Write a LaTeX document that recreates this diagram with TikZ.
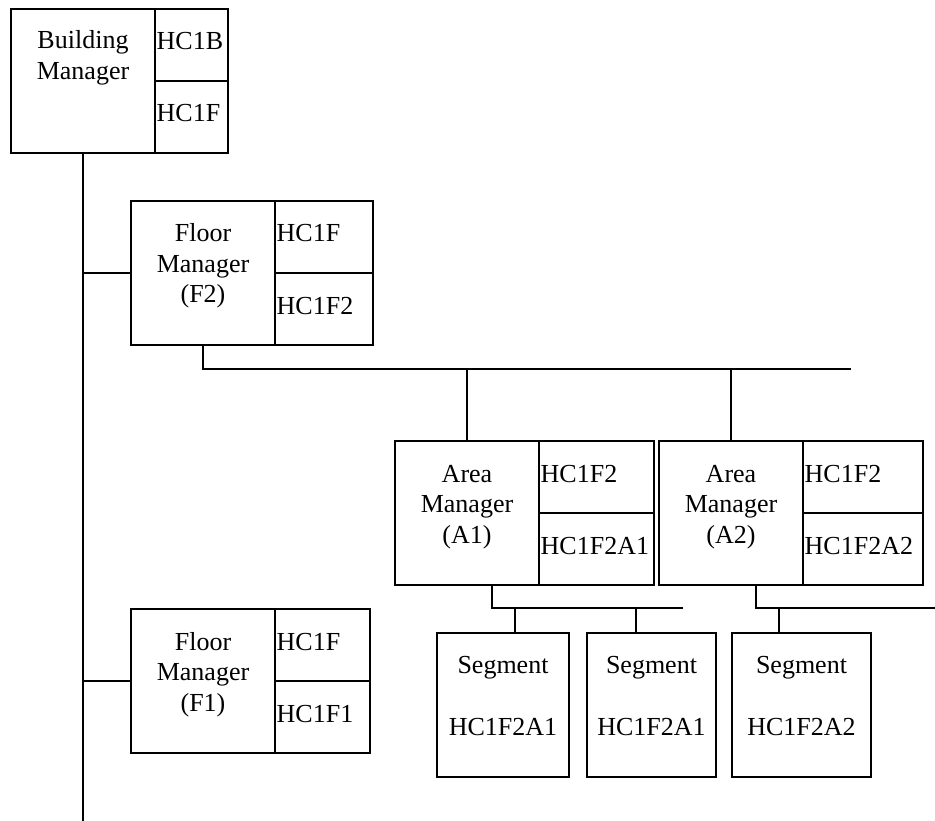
\documentclass[tikz,border=0pt]{standalone}
\usepackage{fontspec}
\setmainfont{Liberation Serif}
\usetikzlibrary{calc}
\tikzset{
  boxwh/.style 2 args={draw, line width=1.8pt, inner sep=0pt, outer sep=0pt,
    anchor=north west, minimum width=#1pt, minimum height=#2pt},
  txt/.style={inner sep=0pt, anchor=base, font=\fontsize{26}{30}\selectfont},
  ltxt/.style={txt, anchor=base west},
  conn/.style={line width=1.5pt}
}
\begin{document}
\begin{tikzpicture}[x=1pt, y=-1pt]
\useasboundingbox (0,0) rectangle (935,821);
% Building manager
\node[boxwh={144}{144}] (bm) at (11,9) {};
\node[boxwh={73}{72}] (bmc1) at (155,9) {};
\node[boxwh={73}{72}] (bmc2) at (155,81) {};
\node[txt] (bmt1) at (83,49) {Building};
\node[txt] (bmt2) at (83,79.5) {Manager};
\node[ltxt] (bmc1t) at (156.5,50) {HC1B};
\node[ltxt] (bmc2t) at (156.5,122) {HC1F};
% Floor manager F2
\node[boxwh={144}{144}] (f2) at (131,201) {};
\node[boxwh={98}{72}] (f2c1) at (275,201) {};
\node[boxwh={98}{72}] (f2c2) at (275,273) {};
\node[txt] (f2t1) at (203,242) {Floor};
\node[txt] (f2t2) at (203,272.5) {Manager};
\node[txt] (f2t3) at (203,303) {(F2)};
\node[ltxt] (f2c1t) at (276.5,242) {HC1F};
\node[ltxt] (f2c2t) at (276.5,314) {HC1F2};
% Floor manager F1
\node[boxwh={144}{144}] (f1) at (131,609) {};
\node[boxwh={95}{72}] (f1c1) at (275,609) {};
\node[boxwh={95}{72}] (f1c2) at (275,681) {};
\node[txt] (f1t1) at (203,650) {Floor};
\node[txt] (f1t2) at (203,680.5) {Manager};
\node[txt] (f1t3) at (203,711) {(F1)};
\node[ltxt] (f1c1t) at (276.5,650) {HC1F};
\node[ltxt] (f1c2t) at (276.5,722) {HC1F1};
% Area manager A1
\node[boxwh={144}{144}] (a1) at (395,441) {};
\node[boxwh={115}{72}] (a1c1) at (539,441) {};
\node[boxwh={115}{72}] (a1c2) at (539,513) {};
\node[txt] (a1t1) at (467,482) {Area};
\node[txt] (a1t2) at (467,512.5) {Manager};
\node[txt] (a1t3) at (467,543) {(A1)};
\node[ltxt] (a1c1t) at (540.5,482) {HC1F2};
\node[ltxt] (a1c2t) at (540.5,554) {HC1F2A1};
% Area manager A2
\node[boxwh={144}{144}] (a2) at (659,441) {};
\node[boxwh={120}{72}] (a2c1) at (803,441) {};
\node[boxwh={120}{72}] (a2c2) at (803,513) {};
\node[txt] (a2t1) at (731,482) {Area};
\node[txt] (a2t2) at (731,512.5) {Manager};
\node[txt] (a2t3) at (731,543) {(A2)};
\node[ltxt] (a2c1t) at (804.5,482) {HC1F2};
\node[ltxt] (a2c2t) at (804.5,554) {HC1F2A2};
% Segments
\node[boxwh={132}{144}] (s1) at (437,633) {};
\node[boxwh={129}{144}] (s2) at (587,633) {};
\node[boxwh={139}{144}] (s3) at (732,633) {};
\node[txt] (s1t1) at (503,673) {Segment};
\node[txt] (s1t2) at (503,735) {HC1F2A1};
\node[txt] (s2t1) at (651.5,673) {Segment};
\node[txt] (s2t2) at (651.5,735) {HC1F2A1};
\node[txt] (s3t1) at (801.5,673) {Segment};
\node[txt] (s3t2) at (801.5,735) {HC1F2A2};
% connectors
\coordinate (trunkend) at (83,821);
\coordinate (f2busend) at (851,369);
\coordinate (a1busend) at (683,608);
\coordinate (a2busend) at (935,608);
\coordinate (a1drop) at ($(a1.south west)+(97,0)$);
\coordinate (a2drop) at ($(a2.south west)+(97,0)$);
\coordinate (s1top) at ($(s1.north west)+(78,0)$);
\coordinate (s2top) at ($(s2.north west)+(49,0)$);
\coordinate (s3top) at ($(s3.north west)+(47,0)$);
\draw[conn] (bm.south) -- (trunkend);
\draw[conn] (bm.south |- f2.west) -- (f2.west);
\draw[conn] (bm.south |- f1.west) -- (f1.west);
\draw[conn] (f2.south) -- (f2.south |- f2busend) -- (f2busend);
\draw[conn] (a1.north |- f2busend) -- (a1.north);
\draw[conn] (a2.north |- f2busend) -- (a2.north);
\draw[conn] (a1drop) -- (a1drop |- a1busend) -- (a1busend);
\draw[conn] (a2drop) -- (a2drop |- a2busend) -- (a2busend);
\draw[conn] (s1top |- a1busend) -- (s1top);
\draw[conn] (s2top |- a1busend) -- (s2top);
\draw[conn] (s3top |- a2busend) -- (s3top);
\end{tikzpicture}
\end{document}
